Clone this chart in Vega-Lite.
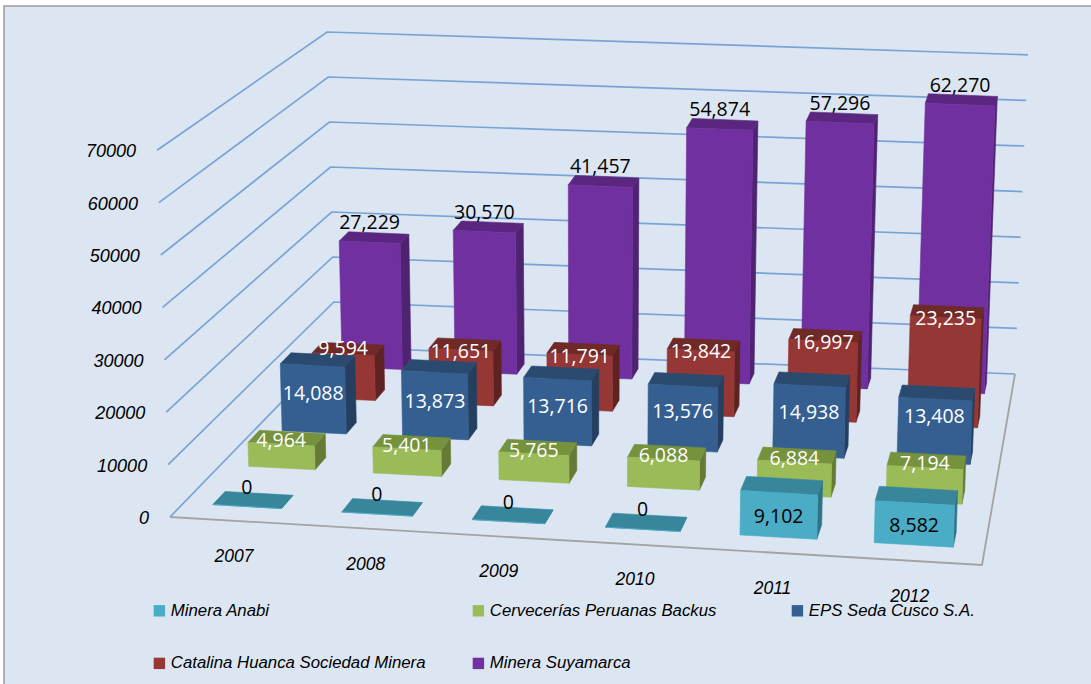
{
"$schema":"https://vega.github.io/schema/vega-lite/v6.json",
"width":1090,"height":682,
"autosize":{"type":"none"},
"padding":{"left":4,"top":6,"right":0,"bottom":0},
"background":"#ffffff",
"config":{"view":{"fill":"#dce6f2","stroke":"#9a9a9a","strokeWidth":1.5}},
"datasets":{
"bars":[
{"year":2007,"series":"Minera Suyamarca","value":27229},{"year":2008,"series":"Minera Suyamarca","value":30570},{"year":2009,"series":"Minera Suyamarca","value":41457},{"year":2010,"series":"Minera Suyamarca","value":54874},{"year":2011,"series":"Minera Suyamarca","value":57296},{"year":2012,"series":"Minera Suyamarca","value":62270},
{"year":2007,"series":"Catalina Huanca Sociedad Minera","value":9594},{"year":2008,"series":"Catalina Huanca Sociedad Minera","value":11651},{"year":2009,"series":"Catalina Huanca Sociedad Minera","value":11791},{"year":2010,"series":"Catalina Huanca Sociedad Minera","value":13842},{"year":2011,"series":"Catalina Huanca Sociedad Minera","value":16997},{"year":2012,"series":"Catalina Huanca Sociedad Minera","value":23235},
{"year":2007,"series":"EPS Seda Cusco S.A.","value":14088},{"year":2008,"series":"EPS Seda Cusco S.A.","value":13873},{"year":2009,"series":"EPS Seda Cusco S.A.","value":13716},{"year":2010,"series":"EPS Seda Cusco S.A.","value":13576},{"year":2011,"series":"EPS Seda Cusco S.A.","value":14938},{"year":2012,"series":"EPS Seda Cusco S.A.","value":13408},
{"year":2007,"series":"Cervecerías Peruanas Backus","value":4964},{"year":2008,"series":"Cervecerías Peruanas Backus","value":5401},{"year":2009,"series":"Cervecerías Peruanas Backus","value":5765},{"year":2010,"series":"Cervecerías Peruanas Backus","value":6088},{"year":2011,"series":"Cervecerías Peruanas Backus","value":6884},{"year":2012,"series":"Cervecerías Peruanas Backus","value":7194},
{"year":2007,"series":"Minera Anabi","value":0},{"year":2008,"series":"Minera Anabi","value":0},{"year":2009,"series":"Minera Anabi","value":0},{"year":2010,"series":"Minera Anabi","value":0},{"year":2011,"series":"Minera Anabi","value":9102},{"year":2012,"series":"Minera Anabi","value":8582}
],
"ticks":[{"value":0},{"value":10000},{"value":20000},{"value":30000},{"value":40000},{"value":50000},{"value":60000},{"value":70000}],
"years":[{"year":2007},{"year":2008},{"year":2009},{"year":2010},{"year":2011},{"year":2012}]
},
"encoding":{
"x":{"field":"px","type":"quantitative","axis":null,"scale":{"domain":[4,1094],"range":[0,1090],"nice":false,"zero":false}},
"y":{"field":"py","type":"quantitative","axis":null,"scale":{"domain":[6,688],"range":[0,682],"nice":false,"zero":false}}
},
"layer":[
{"data":{"name":"ticks"},
"transform":[
{"calculate":"[{n:0,a:0,b:0},{n:1,a:0,b:1},{n:2,a:1,b:1}]","as":"vs"},
{"flatten":["vs"],"as":["vtx"]},
{"calculate":"datum.vtx.n","as":"n"},{"calculate":"datum.vtx.a","as":"pu"},{"calculate":"datum.vtx.b","as":"pv"},
{"calculate":"1-0.08195*datum.pu+0.19809*datum.pv","as":"den"},
{"calculate":"(731.52*datum.pu+231.36*datum.pv+170)/datum.den","as":"bx"},
{"calculate":"(1.70*datum.pu-101.26*datum.pv+517)/datum.den","as":"by"},
{"calculate":"datum.bx+(datum.bx-592)*0.0307*datum.value/70000","as":"px"},
{"calculate":"datum.by-datum.value/10000*(52.4+datum.pv*(45+0.6*datum.pu-52.4))","as":"py"}
],
"mark":{"type":"line","stroke":"#6f9bd2","strokeWidth":1.7,"opacity":0.9},
"encoding":{"detail":{"field":"value"},"order":{"field":"n"}}},
{"data":{"name":"ticks"},
"transform":[
{"filter":"datum.value===0"},
{"calculate":"[{n:0,a:0,b:0},{n:1,a:1,b:0},{n:2,a:1,b:1}]","as":"vs"},
{"flatten":["vs"],"as":["vtx"]},
{"calculate":"datum.vtx.n","as":"n"},{"calculate":"datum.vtx.a","as":"pu"},{"calculate":"datum.vtx.b","as":"pv"},
{"calculate":"1-0.08195*datum.pu+0.19809*datum.pv","as":"den"},
{"calculate":"(731.52*datum.pu+231.36*datum.pv+170)/datum.den","as":"px"},
{"calculate":"(1.70*datum.pu-101.26*datum.pv+517)/datum.den","as":"py"}
],
"mark":{"type":"line","stroke":"#a3a3a3","strokeWidth":1.8},
"encoding":{"order":{"field":"n"}}},
{"data":{"name":"bars"},
"transform":[
{"calculate":"datum.year-2007","as":"i"},
{"calculate":"indexof(['Minera Anabi','Cervecerías Peruanas Backus','EPS Seda Cusco S.A.','Catalina Huanca Sociedad Minera','Minera Suyamarca'],datum.series)","as":"k"},
{"calculate":"[{f:'side',n:0,a:1,b:0,c:0},{f:'side',n:1,a:1,b:1,c:0},{f:'side',n:2,a:1,b:1,c:1},{f:'side',n:3,a:1,b:0,c:1},{f:'top',n:0,a:0,b:0,c:1},{f:'top',n:1,a:1,b:0,c:1},{f:'top',n:2,a:1,b:1,c:1},{f:'top',n:3,a:0,b:1,c:1},{f:'front',n:0,a:0,b:0,c:0},{f:'front',n:1,a:1,b:0,c:0},{f:'front',n:2,a:1,b:0,c:1},{f:'front',n:3,a:0,b:0,c:1}]","as":"vs"},
{"flatten":["vs"],"as":["vtx"]},
{"calculate":"datum.vtx.n","as":"n"},
{"calculate":"datum.series+'|'+datum.vtx.f","as":"shade"},
{"calculate":"datum.series+'|'+datum.year+'|'+datum.vtx.f","as":"faceId"},
{"calculate":"(datum.i+0.5)/6+[0.002,0.007,0.009,0.01,0.008,0.001][datum.i]-0.046+datum.vtx.a*0.092","as":"pu"},
{"calculate":"0.07+0.2*datum.k+datum.vtx.b*0.067","as":"pv"},
{"calculate":"datum.vtx.c*datum.value","as":"ph"},
{"calculate":"1-0.08195*datum.pu+0.19809*datum.pv","as":"den"},
{"calculate":"(731.52*datum.pu+231.36*datum.pv+170)/datum.den","as":"bx"},
{"calculate":"(1.70*datum.pu-101.26*datum.pv+517)/datum.den","as":"by"},
{"calculate":"datum.bx+(datum.bx-592)*0.0307*datum.ph/70000","as":"px"},
{"calculate":"datum.by-datum.ph/10000*(49-3.2*datum.pv)","as":"py"}
],
"mark":{"type":"line","interpolate":"linear-closed","strokeWidth":0.6},
"encoding":{
"detail":{"field":"faceId"},
"order":{"field":"n"},
"fill":{"field":"shade","type":"nominal","legend":null,"scale":{
"domain":["Minera Anabi|front","Minera Anabi|top","Minera Anabi|side","Cervecerías Peruanas Backus|front","Cervecerías Peruanas Backus|top","Cervecerías Peruanas Backus|side","EPS Seda Cusco S.A.|front","EPS Seda Cusco S.A.|top","EPS Seda Cusco S.A.|side","Catalina Huanca Sociedad Minera|front","Catalina Huanca Sociedad Minera|top","Catalina Huanca Sociedad Minera|side","Minera Suyamarca|front","Minera Suyamarca|top","Minera Suyamarca|side"],
"range":["#4bacc6","#37869b","#2f7486","#9bbb59","#76923c","#647a35","#355f91","#2a4a70","#243f60","#953735","#6f2a28","#5e2321","#7030a0","#5a2680","#4f2272"]}},
"stroke":{"field":"shade","type":"nominal","legend":null,"scale":{
"domain":["Minera Anabi|front","Minera Anabi|top","Minera Anabi|side","Cervecerías Peruanas Backus|front","Cervecerías Peruanas Backus|top","Cervecerías Peruanas Backus|side","EPS Seda Cusco S.A.|front","EPS Seda Cusco S.A.|top","EPS Seda Cusco S.A.|side","Catalina Huanca Sociedad Minera|front","Catalina Huanca Sociedad Minera|top","Catalina Huanca Sociedad Minera|side","Minera Suyamarca|front","Minera Suyamarca|top","Minera Suyamarca|side"],
"range":["#4bacc6","#37869b","#2f7486","#9bbb59","#76923c","#647a35","#355f91","#2a4a70","#243f60","#953735","#6f2a28","#5e2321","#7030a0","#5a2680","#4f2272"]}}
}},
{"data":{"name":"bars"},
"transform":[{"calculate":"300","as":"px"},{"calculate":"400","as":"py"}],
"mark":{"type":"square","size":0},
"encoding":{"color":{"field":"series","type":"nominal","scale":{"domain":["Minera Anabi","Cervecerías Peruanas Backus","EPS Seda Cusco S.A.","Catalina Huanca Sociedad Minera","Minera Suyamarca"],"range":["#4bacc6","#9bbb59","#355f91","#953735","#7030a0"]},
"legend":{"title":null,"orient":"none","legendX":147,"legendY":596,"direction":"horizontal","columns":3,"gridAlign":"all","symbolType":"square","symbolSize":130,"symbolOpacity":1,"labelFont":"Liberation Sans","labelFontStyle":"italic","labelFontSize":16.8,"labelColor":"#000000","labelLimit":320,"labelOffset":3,"columnPadding":44,"rowPadding":35,"padding":0}}}},
{"data":{"name":"bars"},
"transform":[
{"calculate":"datum.year-2007","as":"i"},
{"calculate":"indexof(['Minera Anabi','Cervecerías Peruanas Backus','EPS Seda Cusco S.A.','Catalina Huanca Sociedad Minera','Minera Suyamarca'],datum.series)","as":"k"},
{"calculate":"(datum.i+0.5)/6+[0.002,0.007,0.009,0.01,0.008,0.001][datum.i]","as":"pu"},
{"calculate":"0.07+0.2*datum.k","as":"pv"},
{"calculate":"datum.value*(datum.k===0||datum.k===2?0.52:1)","as":"ph"},
{"calculate":"datum.k===4?-19:datum.k===3?(datum.value<10000?-5:2):datum.k===2?[-4,-2,-3,-5,-7,-13][datum.i]:datum.k===1?-3:datum.value===0?-19:3","as":"dy"},
{"calculate":"1-0.08195*datum.pu+0.19809*datum.pv","as":"den"},
{"calculate":"(731.52*datum.pu+231.36*datum.pv+170)/datum.den","as":"bx"},
{"calculate":"(1.70*datum.pu-101.26*datum.pv+517)/datum.den","as":"by"},
{"calculate":"datum.bx+(datum.bx-592)*0.0307*datum.ph/70000","as":"px"},
{"calculate":"datum.by-datum.ph/10000*(49-3.2*datum.pv)+datum.dy","as":"py"}
],
"mark":{"type":"text","font":"Open Sans","fontSize":19.5,"align":"center","baseline":"middle"},
"encoding":{"text":{"field":"value","type":"quantitative","format":","},
"color":{"condition":{"test":"datum.k===0||datum.k===4","value":"#000000"},"value":"#ffffff"}}},
{"data":{"name":"ticks"},
"transform":[
{"calculate":"170+(170-592)*0.0307*datum.value/70000-21","as":"px"},
{"calculate":"519-datum.value/10000*52.4","as":"py"}
],
"mark":{"type":"text","font":"Liberation Sans","fontStyle":"italic","fontSize":18,"align":"right","baseline":"middle","color":"#000000"},
"encoding":{"text":{"field":"value","type":"quantitative","format":"d"}}},
{"data":{"name":"years"},
"transform":[
{"calculate":"(datum.year-2007+0.5)/6+[0.002,0.007,0.009,0.01,0.008,0.001][datum.year-2007]","as":"pu"},
{"calculate":"1-0.08195*datum.pu","as":"den"},
{"calculate":"(731.52*datum.pu+170)/datum.den","as":"px"},
{"calculate":"(1.70*datum.pu+517)/datum.den+36","as":"py"}
],
"mark":{"type":"text","font":"Liberation Sans","fontStyle":"italic","fontSize":17.5,"align":"center","baseline":"middle","color":"#000000"},
"encoding":{"text":{"field":"year","type":"quantitative","format":"d"}}}
]
}
